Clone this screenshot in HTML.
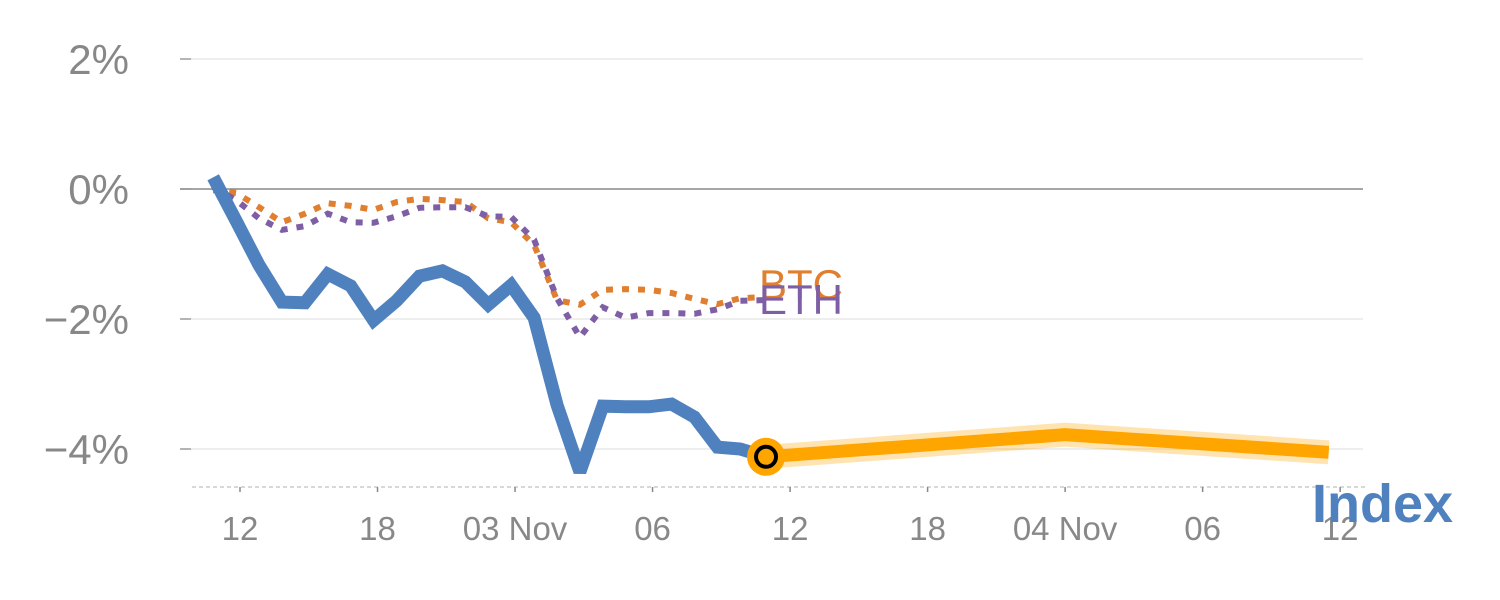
<!DOCTYPE html>
<html><head><meta charset="utf-8"><style>
html,body{margin:0;padding:0;background:#fff;width:1500px;height:600px;overflow:hidden}
svg text{font-family:"Liberation Sans",sans-serif}
</style></head><body>
<svg id="chart" width="1500" height="600" viewBox="0 0 1500 600" xmlns="http://www.w3.org/2000/svg"></svg>
<script>
// ---- data ----
const hours = [-1.17,-0.17,0.83,1.83,2.83,3.83,4.83,5.83,6.83,7.83,8.83,9.83,10.83,11.83,12.83,13.83,14.83,15.83,16.83,17.83,18.83,19.83,20.83,21.83,22.95];
const indexVals = [0.18,-0.49,-1.17,-1.74,-1.75,-1.31,-1.49,-2.02,-1.72,-1.34,-1.26,-1.43,-1.78,-1.48,-1.98,-3.32,-4.35,-3.34,-3.35,-3.35,-3.31,-3.51,-3.97,-4.00,-4.12];
const btcVals = [-0.02,-0.06,-0.28,-0.51,-0.38,-0.22,-0.26,-0.32,-0.20,-0.15,-0.17,-0.20,-0.45,-0.51,-0.86,-1.71,-1.78,-1.55,-1.54,-1.55,-1.60,-1.69,-1.77,-1.68,-1.66];
const ethVals = [0.03,-0.17,-0.45,-0.63,-0.57,-0.38,-0.51,-0.52,-0.42,-0.29,-0.28,-0.28,-0.42,-0.43,-0.78,-1.68,-2.28,-1.82,-1.98,-1.91,-1.91,-1.92,-1.85,-1.72,-1.71];
const forecastHours = [22.95,36,47.5];
const forecastVals = [-4.12,-3.78,-4.05];
const yTicks = [2,0,-2,-4];
const yTickLabels = ["2%","0%","\u22122%","\u22124%"];
const xTicks = [0,6,12,18,24,30,36,42,48];
const xTickLabels = ["12","18","03 Nov","06","12","18","04 Nov","06","12"];

// ---- scales ----
const X = h => 240 + h*22.92;
const Y = v => 189 - v*65;
const svg = document.getElementById('chart');
const NS = 'http://www.w3.org/2000/svg';
function mk(tag, attrs, parent){const e=document.createElementNS(NS,tag);for(const k in attrs)e.setAttribute(k,attrs[k]);(parent||svg).appendChild(e);return e;}

yTicks.forEach((t,i)=>{
  const g = mk('line',{x1:180,x2:1363,y1:Y(t),y2:Y(t),stroke:t===0?'#888':'#e4e4e4','stroke-width':t===0?1.5:1.2});
  
  
  const tk = mk('line',{x1:180,x2:191,y1:Y(t),y2:Y(t),stroke:'#888','stroke-width':1.2});
  
  
  const l = mk('text',{x:129,y:Y(t)+15,'text-anchor':'end','font-size':42,fill:'#888'});
  l.textContent = yTickLabels[i];
  
  
});
const base = mk('line',{x1:192,x2:1365,y1:487,y2:487,stroke:'#ccc','stroke-width':1.5,'stroke-dasharray':'4,3'});


xTicks.forEach((t,i)=>{
  const tk = mk('line',{x1:X(t),x2:X(t),y1:487,y2:492,stroke:'#888','stroke-width':1.5});
  
  
  const l = mk('text',{x:X(t),y:540,'text-anchor':'middle','font-size':33,fill:'#888'});
  l.textContent = xTickLabels[i];
  
  
});

function pts(hs,vs){return hs.map((h,i)=>X(h).toFixed(1)+','+Y(vs[i]).toFixed(1)).join(' ');}

const btc = mk('polyline',{points:pts(hours,btcVals),fill:'none',stroke:'#E07F2F','stroke-width':6,'stroke-dasharray':'7,9'});


const eth = mk('polyline',{points:pts(hours,ethVals),fill:'none',stroke:'#7E5FA6','stroke-width':6,'stroke-dasharray':'7,9'});


const idx = mk('polyline',{points:pts(hours,indexVals),fill:'none',stroke:'#4E81BE','stroke-width':13,'stroke-linejoin':'miter','stroke-miterlimit':1.6});



const band = mk('polyline',{points:pts(forecastHours,forecastVals),fill:'none',stroke:'#FFA500','stroke-opacity':0.3,'stroke-width':24});


const fc = mk('polyline',{points:pts(forecastHours,forecastVals),fill:'none',stroke:'#FFA500','stroke-width':13});



const cx = X(forecastHours[0]), cy = Y(forecastVals[0]);
const c1 = mk('circle',{cx:cx,cy:cy,r:19,fill:'#FFA500'});


const c2 = mk('circle',{cx:cx,cy:cy,r:10,fill:'#FFA500',stroke:'#000','stroke-width':4});



const lb = mk('text',{x:759,y:299,'font-size':42,fill:'#E07F2F'});
lb.textContent='BTC';


const le = mk('text',{x:759,y:314,'font-size':42,fill:'#7E5FA6'});
le.textContent='ETH';


const li = mk('text',{x:1312,y:522,'font-size':54,'font-weight':'bold',fill:'#4E81BE'});
li.textContent='Index';


</script>
</body></html>
